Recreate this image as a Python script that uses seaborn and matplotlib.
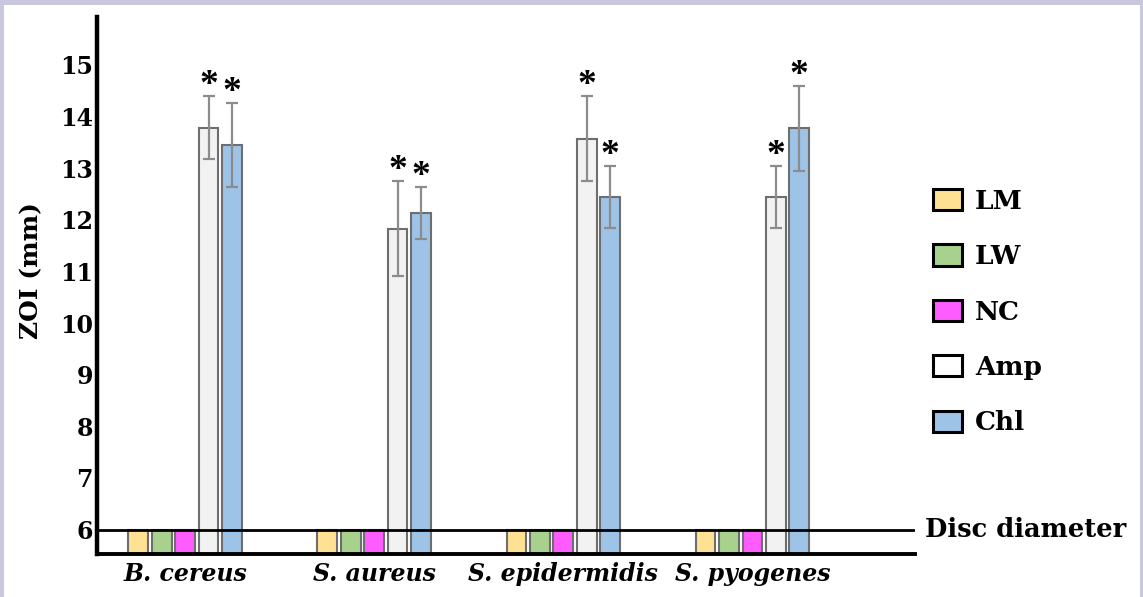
import pandas as pd
import matplotlib.pyplot as plt
import matplotlib.transforms as mtransforms
from matplotlib.patches import Patch, Rectangle
import seaborn as sns

# ── Data ────────────────────────────────────────────────────────────────────
organisms  = ["B. cereus", "S. aureus", "S. epidermidis", "S. pyogenes"]
treatments = ["LM", "LW", "NC", "Amp", "Chl"]
lm_zoi  = [6, 6, 6, 6]
lw_zoi  = [6, 6, 6, 6]
nc_zoi  = [6, 6, 6, 6]
amp_zoi = [13.78, 11.83, 13.57, 12.44]
chl_zoi = [13.45, 12.13, 12.44, 13.77]
amp_sd  = [0.61, 0.92, 0.82, 0.60]
chl_sd  = [0.81, 0.50, 0.60, 0.82]
disc_diameter = 6
y_ticks = list(range(6, 16))

COLORS = {"LM": "#FFE194", "LW": "#A9D18E", "NC": "#FF5CFF",
          "Amp": "#F2F2F2", "Chl": "#9DC3E6"}

rows = []
for t, vals in zip(treatments, [lm_zoi, lw_zoi, nc_zoi, amp_zoi, chl_zoi]):
    for o, v in zip(organisms, vals):
        rows.append({"organism": o, "treatment": t, "zoi": v})
df = pd.DataFrame(rows)

# ── Style ───────────────────────────────────────────────────────────────────
sns.set_style("white")
plt.rcParams.update({
    "font.family": ["DejaVu Serif", "Liberation Serif"],
    "font.weight": "bold",
    "text.color": "black",
    "axes.labelcolor": "black",
    "xtick.color": "black",
    "ytick.color": "black",
})

W, H = 1143, 597
fig = plt.figure(figsize=(W / 100, H / 100), dpi=100)
fig.patch.set_facecolor("#C9C7DD")
fig.add_artist(Rectangle((4 / W, 0), (1140 - 4) / W, (H - 5) / H,
                         transform=fig.transFigure, facecolor="white",
                         edgecolor="none", zorder=-1))
ax = fig.add_axes([97 / W, (H - 553.5) / H, (915 - 97) / W, (553.5 - 17) / H])

sns.barplot(data=df, x="organism", y="zoi", hue="treatment",
            order=organisms, hue_order=treatments, palette=COLORS,
            saturation=1, width=0.62, gap=0.16, errorbar=None,
            edgecolor="#6E6E6E", linewidth=1.5, legend=False, ax=ax)

# error bars + significance stars for the antibiotics
for idx, means, sds in [(3, amp_zoi, amp_sd), (4, chl_zoi, chl_sd)]:
    bars = ax.containers[idx]
    xs = [b.get_x() + b.get_width() / 2 for b in bars]
    ax.errorbar(xs, means, yerr=sds, fmt="none", ecolor="#8C8C8C",
                elinewidth=1.6, capsize=4, capthick=1.6, zorder=3)
    for x, m, s in zip(xs, means, sds):
        ax.annotate("*", (x, m + s), xytext=(0, 1), textcoords="offset pixels",
                    ha="center", va="baseline", fontsize=27, fontweight="bold",
                    family="Liberation Serif")

# disc diameter reference line
ax.axhline(disc_diameter, color="black", linewidth=2.0, zorder=4)
trans = mtransforms.blended_transform_factory(ax.transAxes, ax.transData)
ax.text(1.012, disc_diameter, "Disc diameter", transform=trans, ha="left",
        va="center", fontsize=18.5, fontweight="bold", clip_on=False)

ax.set_ylim(5.535, 15.93)
ax.set_xlim(-0.466, 3.86)
ax.set_yticks(y_ticks)
ax.set_xlabel("")
ax.set_ylabel("ZOI (mm)", fontsize=18, fontweight="bold")
ax.yaxis.set_label_coords(-0.066, 0.528)
ax.tick_params(axis="y", length=0, pad=3, labelsize=17)
ax.tick_params(axis="x", length=0, pad=6, labelsize=17)
for lbl in ax.get_xticklabels():
    lbl.set_fontstyle("italic")
    lbl.set_fontweight("bold")

for side in ["top", "right"]:
    ax.spines[side].set_visible(False)
ax.spines["left"].set_linewidth(3.2)
ax.spines["bottom"].set_linewidth(2.8)
ax.spines["left"].set_color("black")
ax.spines["bottom"].set_color("black")

handles = [Patch(facecolor=("white" if t == "Amp" else COLORS[t]),
                 edgecolor="black", linewidth=2.2) for t in treatments]
fig.legend(handles, treatments, loc="center left",
           bbox_to_anchor=(909 / W, 1 - 312 / H), frameon=False,
           fontsize=19, handlelength=1.1, handleheight=0.85,
           handletextpad=0.5, labelspacing=1.15)

fig.savefig("out.png", dpi=100)
